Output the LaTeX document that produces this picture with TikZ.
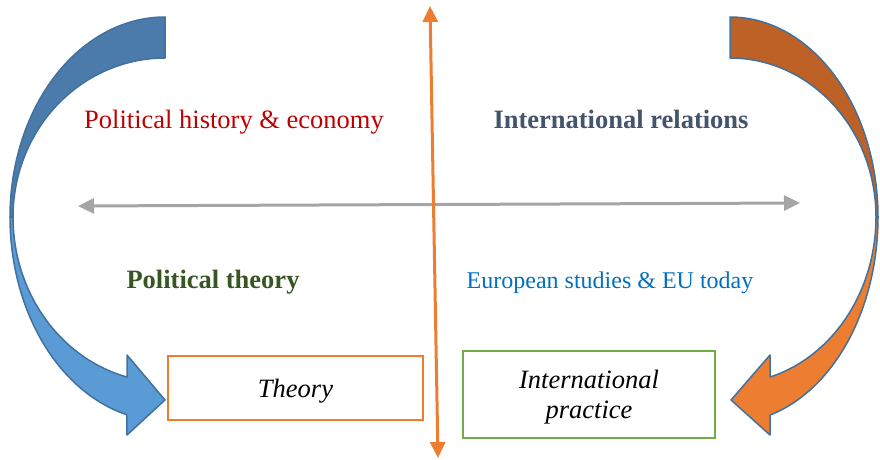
\documentclass[tikz,border=0pt]{standalone}
\usepackage{fontspec}
\setmainfont{Liberation Serif}
\usetikzlibrary{arrows.meta}
\definecolor{bluedark}{HTML}{4A7BAB}
\definecolor{bluelight}{HTML}{5B9BD5}
\definecolor{orgdark}{HTML}{BD6126}
\definecolor{orglight}{HTML}{ED7D31}
\definecolor{rim}{HTML}{41719C}
\definecolor{axisgray}{HTML}{A5A5A5}
\definecolor{txtred}{HTML}{C00000}
\definecolor{txtslate}{HTML}{44546A}
\definecolor{txtgreen}{HTML}{375623}
\definecolor{txtblue}{HTML}{0070C0}
\definecolor{boxgreen}{HTML}{70AD47}
\begin{document}
\begin{tikzpicture}[x=1pt,y=-1pt,
  bandshape/.style={draw=rim, line width=1.5pt, line join=round},
  lbl/.style={font=\fontsize{26.5}{30}\selectfont, anchor=base, inner sep=0pt},
  smalllbl/.style={font=\fontsize{24}{28}\selectfont, anchor=base, inner sep=0pt},
  boxnode/.style={line width=2pt, inner sep=0pt,
    font=\fontsize{26.5}{30}\selectfont\itshape},
  axisarrow/.style={line width=3pt, >={Triangle[length=16pt,width=15pt]}, <->}
]
\useasboundingbox (0,0) rectangle (880,460);
% left curved arrow
\filldraw[bandshape, fill=bluedark]
  plot[domain=-90:-180, samples=60] ({165+155*cos(\x)},{217+200*sin(\x)})
  -- plot[domain=-180:-90, samples=60] ({165+152*cos(\x)},{217+159*sin(\x)})
  -- cycle;
\filldraw[bandshape, fill=bluelight]
  plot[domain=180:104.3, samples=60] ({165+155*cos(\x)},{217+204*sin(\x)})
  -- (127,435) -- (165,400) -- (127,355) -- (127,377)
  -- plot[domain=104.48:180, samples=60] ({165+152*cos(\x)},{217+165.3*sin(\x)})
  -- cycle;
% right curved arrow
\filldraw[bandshape, fill=orgdark]
  plot[domain=-90:0, samples=60] ({730+148*cos(\x)},{217+200*sin(\x)})
  -- plot[domain=0:-90, samples=60] ({730+146*cos(\x)},{217+159*sin(\x)})
  -- cycle;
\filldraw[bandshape, fill=orglight]
  plot[domain=0:74.3, samples=60] ({730+148*cos(\x)},{217+205.7*sin(\x)})
  -- (770,435) -- (731,400) -- (770,355) -- (770,377)
  -- plot[domain=74.1:0, samples=60] ({730+146*cos(\x)},{217+166.4*sin(\x)})
  -- cycle;
% texts
\node[lbl, text=txtred] (pol) at (234,128) {Political history \& economy};
\node[lbl, text=txtslate, font=\fontsize{26.5}{30}\selectfont\bfseries] (ir) at (621,128) {International relations};
\node[lbl, text=txtgreen, font=\fontsize{26.5}{30}\selectfont\bfseries] (pt) at (213,288) {Political theory};
\node[smalllbl, text=txtblue] (eu) at (610,288) {European studies \& EU today};
% boxes
\node[boxnode, draw=orglight, minimum width=255pt, minimum height=64pt] (theory) at (295.5,388)
  {\raisebox{-3pt}[\height][\depth]{Theory}};
\node[boxnode, draw=boxgreen, minimum width=252pt, minimum height=87pt] (practice) at (589,394.5)
  {\raisebox{-3pt}[\height][\depth]{\begin{tabular}{@{}c@{}}International\\practice\end{tabular}}};
% axes
\coordinate (hl) at (78,206);
\coordinate (hr) at (800,203);
\draw[axisarrow, axisgray] (hl) -- (hr);
\coordinate (vt) at (430,6);
\coordinate (vb) at (438,458);
\draw[axisarrow, orglight] (vt) -- (vb);
\end{tikzpicture}
\end{document}
